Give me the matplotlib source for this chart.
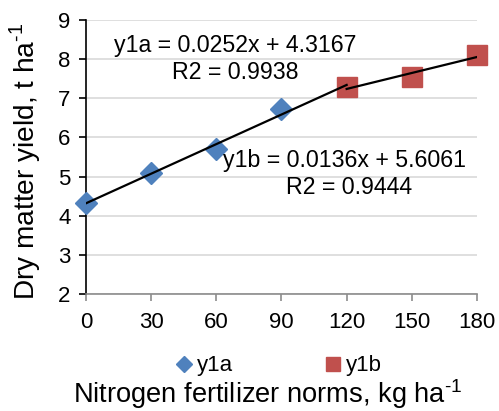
import numpy as np
import matplotlib.pyplot as plt

plt.rcParams['font.family'] = ['Liberation Sans', 'DejaVu Sans']
plt.rcParams['mathtext.fontset'] = 'custom'
plt.rcParams['mathtext.rm'] = 'Liberation Sans'

# data
n_a = [0, 30, 60, 90]
y1a = [4.33, 5.1, 5.7, 6.72]
n_b = [120, 150, 180]
y1b = [7.3, 7.55, 8.1]

# trend line coefficients as printed on the chart
fit_a = (0.0252, 4.3167)
fit_b = (0.0136, 5.6061)
r2_a = 0.9938
r2_b = 0.9444

xticks = [0, 30, 60, 90, 120, 150, 180]
yticks = [2, 3, 4, 5, 6, 7, 8, 9]

fig = plt.figure(figsize=(4.99, 4.11), dpi=100)
ax = fig.add_axes([0.1723, 0.2847, 0.7836, 0.6667])

ax.set_xlim(0, 180)
ax.set_ylim(2, 9)
ax.set_xticks(xticks)
ax.set_yticks(yticks)
ax.yaxis.grid(True, color='#d9d9d9', lw=1.2)
ax.set_axisbelow(True)
for s in ['top', 'right']:
    ax.spines[s].set_visible(False)
ax.spines['bottom'].set_color('#8c8c8c')
ax.spines['left'].set_color('#000000')
ax.spines['bottom'].set_linewidth(1.2)
ax.spines['left'].set_linewidth(1.2)
ax.tick_params(axis='x', colors='#8c8c8c', labelcolor='black', labelsize=16, length=5, width=1.2, pad=8)
ax.tick_params(axis='y', colors='#000000', labelcolor='black', labelsize=16, length=5, width=1.2, pad=6)

ax.plot(n_a, y1a, ls='none', marker='D', ms=11, color='#4f81bd', label='y1a', clip_on=False, zorder=3)
ax.plot(n_b, y1b, ls='none', marker='s', ms=14, color='#c0504d', label='y1b', clip_on=False, zorder=3)

xa = np.array([0, 120])
xb = np.array([120, 180])
ax.plot(xa, fit_a[0] * xa + fit_a[1], color='black', lw=1.6, zorder=4)
ax.plot(xb, fit_b[0] * xb + fit_b[1], color='black', lw=1.6, zorder=4)

ax.text(68.6, 8.36, 'y1a = {0}x + {1}'.format(fit_a[0], fit_a[1]), ha='center', va='center', fontsize=16.7)
ax.text(68.6, 7.67, 'R2 = {0}'.format(r2_a), ha='center', va='center', fontsize=16.7)
ax.text(119.2, 5.42, 'y1b = {0}x + {1}'.format(fit_b[0], fit_b[1]), ha='center', va='center', fontsize=16.7)
ax.text(121, 4.73, 'R2 = {0}'.format(r2_b), ha='center', va='center', fontsize=16.7)

fig.text(0.05, 0.608, r'Dry matter yield, t ha$^{\text{-1}}$', rotation=90, ha='center', va='center', fontsize=20.2)
fig.text(0.536, 0.042, r'Nitrogen fertilizer norms, kg ha$^{\text{-1}}$', ha='center', va='center', fontsize=19.6)

fig.legend(loc='center', bbox_to_anchor=(0.556, 0.11), ncol=2, frameon=False, fontsize=16,
           handletextpad=0.1, columnspacing=4.0, handlelength=1.0, markerscale=0.75)

fig.savefig('out.png', dpi=100)
